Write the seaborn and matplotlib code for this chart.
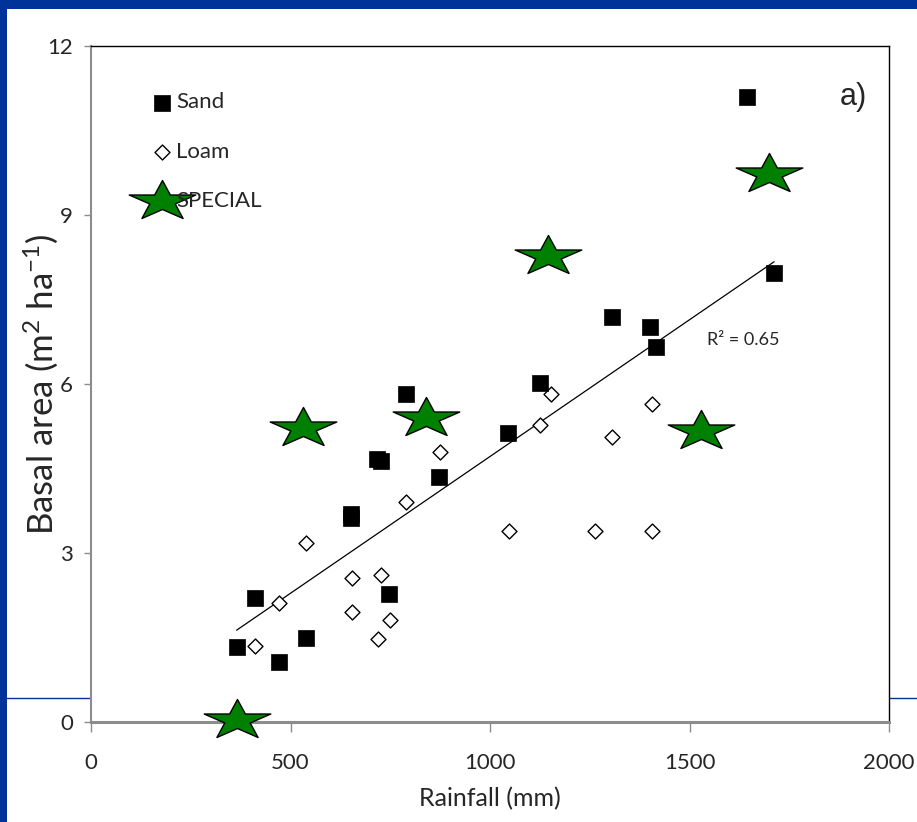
import numpy as np
import pandas as pd
import matplotlib
matplotlib.use("Agg")
import matplotlib.pyplot as plt
from matplotlib.path import Path
from matplotlib.lines import Line2D
from matplotlib.patches import Rectangle
import seaborn as sns

# ---------------- data ----------------
sand_rain = [367, 412, 472, 540, 652, 652, 717, 727, 747, 790, 872, 1045, 1125, 1305, 1402, 1415, 1645, 1712]
sand_ba   = [1.33, 2.20, 1.07, 1.49, 3.62, 3.70, 4.67, 4.63, 2.27, 5.82, 4.35, 5.13, 6.02, 7.19, 7.01, 6.66, 11.10, 7.97]

loam_rain = [412, 470, 540, 655, 727, 655, 750, 720, 790, 875, 1152, 1125, 1405, 1305, 1047, 1262, 1407]
loam_ba   = [1.35, 2.11, 3.18, 2.56, 2.61, 1.95, 1.81, 1.47, 3.91, 4.79, 5.82, 5.27, 5.64, 5.06, 3.39, 3.39, 3.39]

special_rain = [367, 532, 840, 1145, 1530, 1700]
special_ba   = [0.04, 5.22, 5.40, 8.27, 5.17, 9.73]

trend_slope = 0.004855
trend_intercept = -0.142
trend_x = [365, 1712]
r2_label = "R² = 0.65"

x_ticks = [0, 500, 1000, 1500, 2000]
y_ticks = [0, 3, 6, 9, 12]

# ---------------- style ----------------
sns.set_style("white")
plt.rcParams['font.family'] = ['Lato', 'DejaVu Sans']
plt.rcParams['mathtext.fontset'] = 'custom'
plt.rcParams['mathtext.rm'] = 'Lato'
plt.rcParams['mathtext.it'] = 'Lato'

W, H = 917, 822
fig = plt.figure(figsize=(W / 100, H / 100), dpi=100)
fig.patch.set_facecolor('white')

blue = '#003399'
# slide frame
fig.patches.append(Rectangle((0, 1 - 9 / H), 1, 9 / H, transform=fig.transFigure,
                             facecolor=blue, edgecolor='none', zorder=-2))
fig.patches.append(Rectangle((0, 0), 7 / W, 1, transform=fig.transFigure,
                             facecolor=blue, edgecolor='none', zorder=-2))
fig.lines.append(Line2D([0, 1], [1 - 698 / H, 1 - 698 / H], transform=fig.transFigure,
                        color=blue, linewidth=1.0, zorder=-1))

ax = fig.add_axes([91 / W, 1 - 722 / H, (889 - 91) / W, (722 - 46) / H])
ax.set_facecolor('white')

# flattened star marker
star = Path.unit_regular_star(5, 0.381966)
verts = star.vertices.copy()
verts[:, 1] *= 0.6
star_marker = Path(verts, star.codes)

df_sand = pd.DataFrame({'rain': sand_rain, 'ba': sand_ba})
df_loam = pd.DataFrame({'rain': loam_rain, 'ba': loam_ba})
df_spec = pd.DataFrame({'rain': special_rain, 'ba': special_ba})

tx = np.array(trend_x, dtype=float)
df_trend = pd.DataFrame({'rain': tx, 'ba': trend_slope * tx + trend_intercept})

sns.lineplot(data=df_trend, x='rain', y='ba', ax=ax, color='black', linewidth=0.9,
             zorder=2, legend=False)
sns.scatterplot(data=df_loam, x='rain', y='ba', ax=ax, marker='D', s=58,
                facecolor='white', edgecolor='black', linewidth=1.0, label='Loam', zorder=3)
sns.scatterplot(data=df_sand, x='rain', y='ba', ax=ax, marker='s', s=132,
                color='black', edgecolor='black', linewidth=0.5, label='Sand', zorder=4)
sns.scatterplot(data=df_spec, x='rain', y='ba', ax=ax, marker=star_marker, s=2300,
                facecolor='#008000', edgecolor='black', linewidth=1.0, label='SPECIAL', zorder=5,
                clip_on=False)

ax.set_xlim(0, 2000)
ax.set_ylim(0, 12)
ax.set_xticks(x_ticks)
ax.set_yticks(y_ticks)
ax.set_xticklabels([str(v) for v in x_ticks])
ax.set_yticklabels([str(v) for v in y_ticks])

for s in ['top', 'right']:
    ax.spines[s].set_color('black')
    ax.spines[s].set_linewidth(1.0)
ax.spines['left'].set_color('#8c8c8c')
ax.spines['left'].set_linewidth(1.5)
ax.spines['bottom'].set_color('#8c8c8c')
ax.spines['bottom'].set_linewidth(2.2)

ax.tick_params(axis='y', direction='out', length=5, width=1, color='#8c8c8c',
               labelsize=16, pad=8, left=True)
ax.tick_params(axis='x', direction='out', length=7, width=1, color='#8c8c8c',
               labelsize=16, pad=15, bottom=True)

ax.set_xlabel('Rainfall (mm)', fontsize=18)
ax.set_ylabel(r'Basal area (m$^{2}$ ha$^{-1}$)', fontsize=25)
ax.xaxis.set_label_coords(0.5, (722 - 787) / 676)
ax.yaxis.set_label_coords((60 - 91) / 798, 0.5)

# legend
handles, labels = ax.get_legend_handles_labels()
order = [labels.index('Sand'), labels.index('Loam'), labels.index('SPECIAL')]
leg = ax.legend([handles[i] for i in order], [labels[i] for i in order],
                loc='upper left', bbox_to_anchor=((151 - 91) / 798, (722 - 92.5) / 676),
                frameon=False, fontsize=16, handlelength=1.0, handletextpad=0.14,
                labelspacing=1.32, borderpad=0, borderaxespad=0, scatterpoints=1)

ax.text((853 - 91) / 798, (722 - 97) / 676, 'a)', transform=ax.transAxes,
        fontsize=22, family=['Liberation Sans', 'DejaVu Sans'], ha='center', va='center')
ax.text((707 - 91) / 798, (722 - 340) / 676, r2_label, transform=ax.transAxes,
        fontsize=13, ha='left', va='center')

fig.savefig('out.png', dpi=100, facecolor='white')
